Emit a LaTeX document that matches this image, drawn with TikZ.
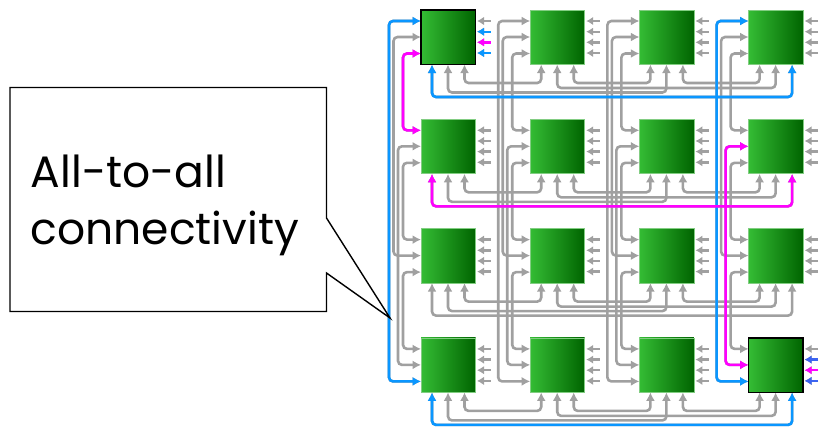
\documentclass[tikz,border=0pt]{standalone}
\usepackage{fontspec}
\setmainfont{Poppins}
\usetikzlibrary{arrows.meta,calc}
\definecolor{gl}{RGB}{160,160,160}
\definecolor{bl}{RGB}{10,150,255}
\definecolor{mg}{RGB}{255,0,255}
\definecolor{rb}{RGB}{60,100,240}
\definecolor{gL}{RGB}{52,188,52}
\definecolor{gR}{RGB}{0,100,0}
\definecolor{sqedge}{RGB}{130,205,130}
\tikzset{
  sq/.style={draw=sqedge, line width=0.7pt, left color=gL, right color=gR,
    minimum width=54.5pt, minimum height=54.5pt, inner sep=0pt, outer sep=0pt, anchor=north west},
  hl/.style={draw=black, line width=1.6pt},
  conn/.style={line width=2.6pt, rounded corners=4pt,
    {Latex[length=8.5pt,width=9pt]}-{Latex[length=8.5pt,width=9pt]}},
  stub/.style={line width=2.4pt, -{Latex[length=7pt,width=8.5pt]}},
  calltext/.style={anchor=base west, inner sep=0pt, font=\fontsize{44}{54}\selectfont},
}
\begin{document}
\begin{tikzpicture}[x=1pt,y=-1pt]
\useasboundingbox (0,0) rectangle (819,426);
% squares
\foreach \r in {1,...,4}{
  \foreach \c in {1,...,4}{
    \pgfmathsetmacro\xx{421+109.2*(\c-1)}
    \pgfmathsetmacro\yy{10+109.3*(\r-1)}
    \node[sq] (s\r\c) at (\xx,\yy) {};
  }}
% vertical (column) connections
\foreach \c in {1,...,4}{
  \foreach \ra/\rb/\oa/\ob/\bo in {1/2/43.5/11/18, 2/3/43.5/11/18, 3/4/43.5/11/18, 2/4/27/27/23, 1/3/27/27/27.5, 1/4/11/43.5/32}{
    \draw[conn,gl] ($(s\ra\c.north west)+(0,\oa)$) -- ($(s\ra\c.north west)+(-\bo,\oa)$)
      -- ($(s\rb\c.north west)+(-\bo,\ob)$) -- ($(s\rb\c.north west)+(0,\ob)$);
  }}
% horizontal (row) connections
\foreach \r in {1,...,4}{
  \foreach \ca/\cb/\oa/\ob/\bo in {1/2/43.5/11/18.5, 2/3/43.5/11/18.5, 3/4/43.5/11/18.5, 2/4/27/27/23.5, 1/3/27/27/28, 1/4/11/43.5/32.5}{
    \draw[conn,gl] ($(s\r\ca.south west)+(\oa,0)$) -- ($(s\r\ca.south west)+(\oa,\bo)$)
      -- ($(s\r\cb.south west)+(\ob,\bo)$) -- ($(s\r\cb.south west)+(\ob,0)$);
  }}
% right-side stubs
\foreach \r in {1,...,4}{
  \foreach \c in {1,...,4}{
    \foreach \o in {11,21.7,32.3,43}{
      \draw[stub,gl] ($(s\r\c.north east)+(15,\o)$) -- ($(s\r\c.north east)+(1.5,\o)$);
    }}}
% highlighted paths
\draw[conn,bl] ($(s11.north west)+(0,11)$) -- ($(s11.north west)+(-32,11)$)
  -- ($(s41.north west)+(-32,43.5)$) -- ($(s41.north west)+(0,43.5)$);
\draw[conn,mg] ($(s11.north west)+(0,43.5)$) -- ($(s11.north west)+(-18,43.5)$)
  -- ($(s21.north west)+(-18,11)$) -- ($(s21.north west)+(0,11)$);
\draw[conn,bl] ($(s14.north west)+(0,11)$) -- ($(s14.north west)+(-32,11)$)
  -- ($(s44.north west)+(-32,43.5)$) -- ($(s44.north west)+(0,43.5)$);
\draw[conn,mg] ($(s24.north west)+(0,27)$) -- ($(s24.north west)+(-23,27)$)
  -- ($(s44.north west)+(-23,27)$) -- ($(s44.north west)+(0,27)$);
\draw[conn,bl] ($(s11.south west)+(11,0)$) -- ($(s11.south west)+(11,32.5)$)
  -- ($(s14.south west)+(43.5,32.5)$) -- ($(s14.south west)+(43.5,0)$);
\draw[conn,mg] ($(s21.south west)+(11,0)$) -- ($(s21.south west)+(11,32.5)$)
  -- ($(s24.south west)+(43.5,32.5)$) -- ($(s24.south west)+(43.5,0)$);
\draw[conn,bl] ($(s41.south west)+(11,0)$) -- ($(s41.south west)+(11,32.5)$)
  -- ($(s44.south west)+(43.5,32.5)$) -- ($(s44.south west)+(43.5,0)$);
% coloured stubs
\draw[stub,bl] ($(s11.north east)+(15,21.7)$) -- ($(s11.north east)+(1.5,21.7)$);
\draw[stub,mg] ($(s11.north east)+(15,32.3)$) -- ($(s11.north east)+(1.5,32.3)$);
\draw[stub,bl] ($(s11.north east)+(15,43)$) -- ($(s11.north east)+(1.5,43)$);
\draw[stub,rb] ($(s44.north east)+(15,21.7)$) -- ($(s44.north east)+(1.5,21.7)$);
\draw[stub,mg] ($(s44.north east)+(15,32.3)$) -- ($(s44.north east)+(1.5,32.3)$);
\draw[stub,rb] ($(s44.north east)+(15,43)$) -- ($(s44.north east)+(1.5,43)$);
% highlighted squares
\draw[hl] (s11.north west) rectangle (s11.south east);
\draw[hl] (s44.north west) rectangle (s44.south east);
% callout
\draw[line width=1.4pt, fill=white, line join=miter]
  (10,87.5) -- (326.5,87.5) -- (326.5,218) -- (390,318) -- (326.5,273)
  -- (326.5,311.5) -- (10,311.5) -- cycle;
\node[calltext] (t1) at (30.5,187.7) {All-to-all};
\node[calltext] (t2) at (30.5,244) {connectivity};
\end{tikzpicture}
\end{document}
